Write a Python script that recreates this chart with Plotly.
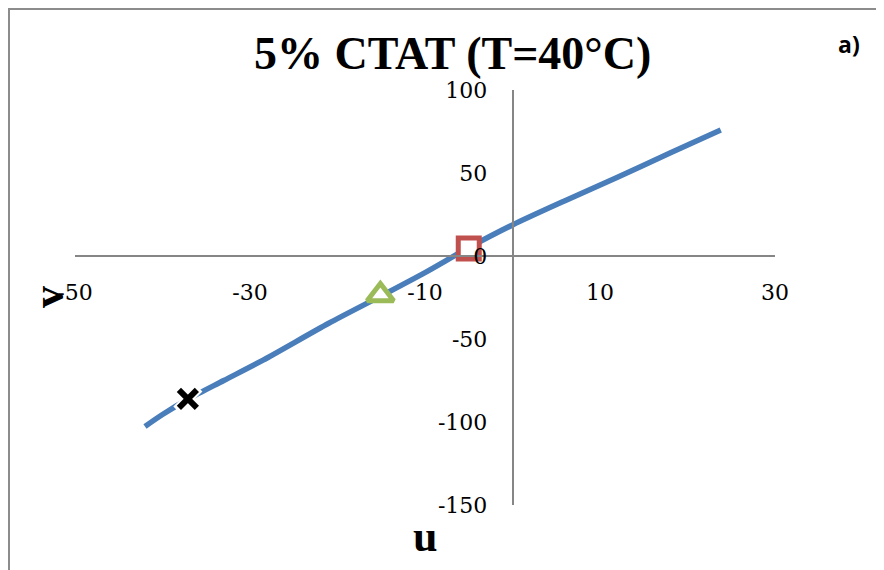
import plotly.graph_objects as go

# ---- data ----
curve_u = [-42.0, -40.0, -37.0, -33.0, -28.5, -21.0, -15.0, -10.0, -5.0, 0.0, 6.0, 12.0, 18.0, 23.8]
curve_v = [-102.7, -95.5, -86.0, -75.0, -62.7, -40.5, -24.0, -10.0, 5.0, 18.7, 33.3, 47.5, 62.0, 75.9]

square_u = [-5.0]
square_v = [4.5]
triangle_u = [-15.1]
triangle_v = [-23.5]
cross_u = [-37.1]
cross_v = [-86.1]

x_ticks = [-50, -30, -10, 10, 30]
x_tick_labels = ["-50", "-30", "-10", "10", "30"]
y_ticks = [-150, -100, -50, 0, 50, 100]
y_tick_labels = ["-150", "-100", "-50", "0", "50", "100"]

title_text = "5% CTAT (T=40°C)"
panel_label = "a)"
x_title = "u"
y_title = "v"

x_range = [-50, 30]
y_range = [-150, 100]

# ---- figure ----
fig = go.Figure()
fig.add_trace(go.Scatter(x=curve_u, y=curve_v, mode="lines",
                         line=dict(color="#4A7EBB", width=5.5, shape="spline", smoothing=0.8),
                         hoverinfo="skip"))
# white halo behind the cross
fig.add_trace(go.Scatter(x=cross_u, y=cross_v, mode="markers",
                         marker=dict(symbol="x-thin-open", size=22, color="white",
                                     line=dict(color="white", width=10))))
fig.add_trace(go.Scatter(x=cross_u, y=cross_v, mode="markers",
                         marker=dict(symbol="x-thin-open", size=18, color="black",
                                     line=dict(color="black", width=6))))
fig.add_trace(go.Scatter(x=triangle_u, y=triangle_v, mode="markers",
                         marker=dict(symbol="triangle-up", size=23, color="white",
                                     line=dict(color="#9BBB59", width=5))))
fig.add_trace(go.Scatter(x=square_u, y=square_v, mode="markers",
                         marker=dict(symbol="square", size=21, color="white",
                                     line=dict(color="#C0504D", width=5))))

OFF = 8  # page body margin
W, H = 884 - OFF, 570 - OFF
L = 75 - OFF
T = 90 - OFF
R = W - (775 - OFF)
B = H - (505 - OFF)
pw, ph = W - L - R, H - T - B

x_zero_frac = (0 - x_range[0]) / (x_range[1] - x_range[0])
y_zero_frac = (0 - y_range[0]) / (y_range[1] - y_range[0])

tick_font = dict(family="DejaVu Serif", size=22, color="black")

fig.update_layout(
    width=W, height=H,
    margin=dict(l=L, r=R, t=T, b=B, autoexpand=False),
    paper_bgcolor="white", plot_bgcolor="white",
    showlegend=False,
    xaxis=dict(range=x_range, tickvals=x_ticks, ticktext=x_tick_labels,
               anchor="free", position=y_zero_frac,
               showline=True, linecolor="#868686", linewidth=1.5,
               showgrid=False, zeroline=False, ticks="",
               tickfont=tick_font, ticklabelstandoff=17),
    yaxis=dict(range=y_range, tickvals=y_ticks, ticktext=y_tick_labels,
               anchor="free", position=x_zero_frac,
               showline=True, linecolor="#868686", linewidth=1.5,
               showgrid=False, zeroline=False, ticks="",
               tickfont=tick_font, ticklabelstandoff=20),
)

def px_x(p):
    # p: page pixel x
    return (p - OFF - L) / pw

def px_y(p):
    # p: page pixel y
    return (H - B - (p - OFF)) / ph

annotations = [
    dict(text=title_text, x=px_x(452), y=px_y(54), xref="paper", yref="paper",
         showarrow=False, xanchor="center", yanchor="middle",
         font=dict(family="Liberation Serif", size=46, color="black", weight="bold")),
    dict(text=panel_label, x=px_x(849), y=px_y(44), xref="paper", yref="paper",
         showarrow=False, xanchor="center", yanchor="middle",
         font=dict(family="Open Sans", size=23, color="black", weight="bold")),
    dict(text=x_title, x=px_x(425), y=px_y(536), xref="paper", yref="paper",
         showarrow=False, xanchor="center", yanchor="middle",
         font=dict(family="Liberation Serif", size=44, color="black", weight="bold")),
    dict(text=y_title, x=px_x(48), y=px_y(297), xref="paper", yref="paper",
         showarrow=False, xanchor="center", yanchor="middle", textangle=-90,
         font=dict(family="Liberation Serif", size=44, color="black", weight="bold")),
]
fig.update_layout(annotations=annotations)

fig.add_shape(type="rect", xref="paper", yref="paper",
              x0=px_x(9), y0=px_y(620), x1=px_x(940), y1=px_y(9),
              line=dict(color="#8C8C8C", width=2), fillcolor="rgba(0,0,0,0)", layer="below")

fig.write_html("out.html")
